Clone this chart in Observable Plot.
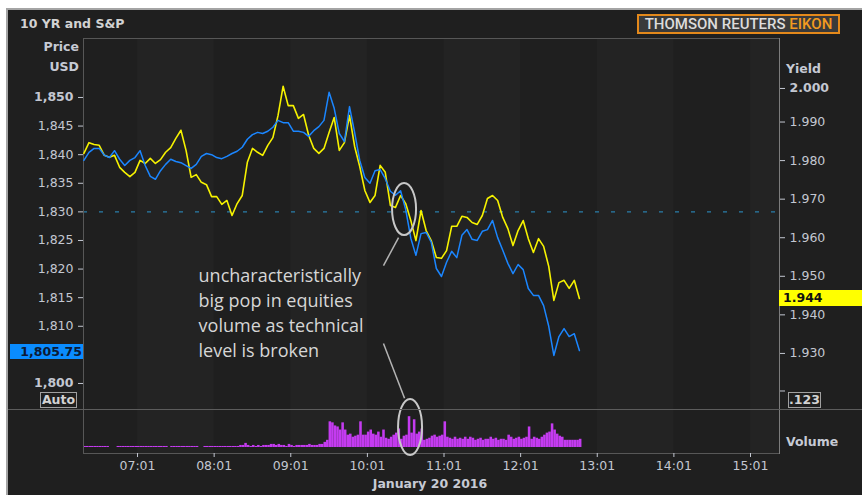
<!DOCTYPE html>
<html><head><meta charset="utf-8">
<script src="https://cdn.jsdelivr.net/npm/d3@7"></script>
<script src="https://cdn.jsdelivr.net/npm/@observablehq/plot@0.6"></script>
<style>
body{margin:0;background:#fff;}
#root{position:relative;width:862px;height:495px;overflow:hidden;font-family:"DejaVu Sans",sans-serif;}
.panel{position:absolute;left:6px;top:8px;width:856px;height:487px;background:#1f1f1f;border-top:2px solid #a4a4a4;border-left:2px solid #a4a4a4;box-sizing:border-box;}
.layer{position:absolute;left:0;top:0;}
.lbl{position:absolute;color:#c6cad4;font-size:12.5px;font-weight:bold;white-space:nowrap;line-height:1;}
.box{position:absolute;box-sizing:border-box;font-size:12.5px;font-weight:bold;line-height:1;white-space:nowrap;}
</style></head>
<body><div id="root"><div class="panel"></div></div>
<script>
// ---- data ----
const timeStart = 379;   // 06:19, minutes after midnight
const lineStep = 4;      // minutes between line samples
const volStep = 2;       // minutes between volume samples
const sp500 = [1839.0,1840.4,1841.1,1841.1,1839.9,1839.5,1840.7,1839.2,1838.1,1839.0,
 1839.5,1840.7,1838.1,1836.2,1835.7,1837.2,1838.3,1839.2,1838.8,1838.6,
 1838.1,1837.6,1838.3,1839.7,1840.2,1840.0,1839.5,1839.3,1839.7,1840.2,
 1840.6,1841.3,1842.7,1843.5,1843.9,1843.7,1844.1,1844.8,1846.0,1845.6,
 1845.6,1844.1,1844.1,1843.9,1843.2,1844.2,1844.9,1846.0,1850.9,1848.1,
 1843.7,1842.3,1848.4,1843.9,1839.0,1836.0,1835.0,1837.2,1837.4,1835.8,
 1833.6,1832.9,1833.7,1830.4,1825.4,1822.4,1826.2,1826.4,1824.7,1820.1,
 1818.7,1821.2,1823.1,1822.0,1825.9,1826.9,1825.2,1825.0,1826.6,1826.9,
 1828.5,1825.5,1823.3,1821.0,1819.2,1820.8,1819.9,1816.6,1815.4,1815.4,
 1813.6,1810.0,1804.9,1808.2,1809.6,1808.2,1808.7,1805.75];
const yield10 = [1.9816,1.9844,1.9839,1.9837,1.9811,1.9806,1.9811,1.9780,1.9767,1.9756,
 1.9767,1.9798,1.9790,1.9803,1.9790,1.9800,1.9819,1.9831,1.9855,1.9876,
 1.9824,1.9754,1.9761,1.9741,1.9735,1.9704,1.9704,1.9684,1.9694,1.9655,
 1.9686,1.9707,1.9793,1.9829,1.9819,1.9811,1.9837,1.9857,1.9914,1.9990,
 1.9940,1.9940,1.9907,1.9917,1.9863,1.9829,1.9816,1.9829,1.9870,1.9909,
 1.9824,1.9844,1.9914,1.9834,1.9782,1.9720,1.9689,1.9707,1.9785,1.9767,
 1.9681,1.9676,1.9707,1.9686,1.9642,1.9590,1.9668,1.9616,1.9590,1.9546,
 1.9544,1.9564,1.9627,1.9627,1.9653,1.9650,1.9637,1.9632,1.9655,1.9699,
 1.9707,1.9694,1.9650,1.9621,1.9577,1.9616,1.9642,1.9595,1.9559,1.9595,
 1.9575,1.9523,1.9435,1.9481,1.9487,1.9466,1.9487,1.9440];
const volume = [1,1,1,1,1,1,1,1,1,1, 0,0,0,
 1,1,1,1,1,1,1,1,1,1,1,1,1,1,1,1,1,1,1,1, 0,
 1,1,1,1,1,1,1,1,1,1,1, 0,0,
 1,1,1,1,1,1,1,1,1,1,1,1,1,1,
 2,2,4,2,1,2,1,2,1,2, 2,2,3,3,2,3,2,2,1,3, 2,1,2,2,2,2,2,3,2,2, 2,3,3,5,7,
 25,24,21,20,17,24,17,12,13,10,
 11,12,25,12,12,15,17,13,12,15,
 10,17,9,8,10,12,14,18,8,11,
 12,30,14,27,13,15,18,7,8,9,
 11,12,10,11,12,25,10,9,8,10,
 8,9,8,10,8,10,9,7,8,9,
 7,8,8,10,8,9,7,8,8,7,
 12,10,8,9,10,8,9,10,20,8,
 10,9,8,10,12,14,15,23,17,13,
 11,10,7,7,7,7,7,7,8];
const hourTicks = [421,481,541,601,661,721,781,841,901]; // 07:01 ... 15:01
const xDomain = [378.7, 923.7];
const priceDomain = [1795.45, 1860.31];
const yieldDomain = [1.9152, 2.0114];
const volDomain = [0, 37];
const priceTicks = [1810,1815,1820,1825,1830,1835,1840,1845];
const priceTicksBold = [1800,1850];
const priceTickHidden = [1805];   // label sits under the last-price box
const yieldTicks = [1.93,1.94,1.95,1.96,1.97,1.98,1.99];
const yieldTicksBold = [2.0];
const yieldTickBlank = [1.92];
const technicalLevel = 1830;
const lastPrice = 1805.75, lastYield = 1.944;
const noteText = "uncharacteristically\nbig pop in equities\nvolume as technical\nlevel is broken";
const note = {t: 468.8, p: 1820.9};
const leaders = [{t1: 625.4, p1: 1825.5, t2: 613.6, p2: 1820.6}, {t1: 613.6, p1: 1807.0, t2: 630.1, p2: 1797.4}];
const priceRing = {t: 630.1, p: 1830.4};
const volumeRing = {t: 634.8, v: 19.5};

// ---- derived tables ----
const lineData = sp500.map((p, i) => ({t: timeStart + i*lineStep, p, y: yield10[i]}));
const volData = volume.map((v, i) => ({t: timeStart + i*volStep, v}));
const bands = [];
for (let i = 0; i < hourTicks.length; i += 2) bands.push({a: hourTicks[i], b: i+1 < hourTicks.length ? hourTicks[i+1] : xDomain[1]});
const fmtTime = m => String(Math.floor(m/60)).padStart(2,"0") + ":" + String(m%60).padStart(2,"0");
const fmtPrice = d3.format(",");
const fmtYield = d3.format(".3f");

const W = 862, H = 495;
const baseStyle = {background:"transparent", color:"#c3c7d1", fontFamily:"DejaVu Sans", fontSize:"12.5px", overflow:"visible"};
const upper = {width:W, height:H, marginLeft:83, marginRight:83, marginTop:38, marginBottom:86, style:baseStyle,
  x:{domain:xDomain, axis:null}};
const bandFill = "#232323";

const A = Plot.plot({...upper, y:{domain:priceDomain, axis:null}, marks:[
  Plot.rect(bands, {x1:"a", x2:"b", fill:bandFill}),
  Plot.ruleY([technicalLevel], {stroke:"#2a7fab", strokeDasharray:"4,12", strokeWidth:1.3}),
  Plot.frame({stroke:"#575757"}),
  Plot.axisY(priceTicks, {anchor:"left", label:null, tickSize:5, tickPadding:5, tickFormat:fmtPrice, fontSize:12.5}),
  Plot.axisY(priceTickHidden, {anchor:"left", label:null, tickSize:5, tickFormat:() => ""}),
  Plot.axisY(priceTicksBold, {anchor:"left", label:null, tickSize:5, tickPadding:5, tickFormat:fmtPrice, fontWeight:"bold", fontSize:12.5})
]});

const C = Plot.plot({width:W, height:H, marginLeft:83, marginRight:83, marginTop:409, marginBottom:42, style:baseStyle,
  x:{domain:xDomain, axis:null}, y:{domain:volDomain, axis:null, insetBottom:6}, marks:[
  Plot.rect(bands, {x1:"a", x2:"b", fill:bandFill}),
  Plot.rectY(volData, {x1:"t", x2:d => d.t + volStep, y:"v", fill:"#c43bf0"}),
  Plot.frame({stroke:"#575757"}),
  Plot.frame({anchor:"right", stroke:"#7c7c7c"}),
  Plot.axisX(hourTicks, {anchor:"bottom", label:null, tickSize:4, tickPadding:4, tickFormat:fmtTime, fontSize:12.5})
]});

const B = Plot.plot({...upper, y:{domain:yieldDomain, axis:null}, marks:[
  Plot.frame({anchor:"right", stroke:"#7c7c7c"}),
  Plot.line(lineData, {x:"t", y:"y", stroke:"#f6f200", strokeWidth:1.6}),
  Plot.axisY(yieldTicks, {anchor:"right", label:null, tickSize:5, tickPadding:5, tickFormat:fmtYield, dy:1, fontSize:12.5}),
  Plot.axisY(yieldTicksBold, {anchor:"right", label:null, tickSize:5, tickPadding:5, tickFormat:fmtYield, dy:6, fontWeight:"bold", fontSize:12.5}),
  Plot.axisY(yieldTickBlank, {anchor:"right", label:null, tickSize:5, tickFormat:() => ""})
]});

const D = Plot.plot({...upper, y:{domain:priceDomain, axis:null}, marks:[
  Plot.line(lineData, {x:"t", y:"p", stroke:"#1b86ff", strokeWidth:1.5}),
  Plot.link(leaders, {x1:"t1", y1:"p1", x2:"t2", y2:"p2", stroke:"#b4b4b4", strokeWidth:1.5}),
  Plot.text([note], {x:"t", y:"p", text:() => noteText, textAnchor:"start", lineAnchor:"top", lineHeight:1.4,
    fontSize:18, fontFamily:"Open Sans", fill:"#d6d6d6"})
]});

const root = document.getElementById("root");
for (const s of [A, C, B, D]) { s.classList.add("layer"); root.appendChild(s); }

const sxD = D.scale("x"), syD = D.scale("y"), sxC = C.scale("x"), syC = C.scale("y"), syB = B.scale("y");
d3.select(D).append("ellipse").attr("cx", sxD.apply(priceRing.t)).attr("cy", syD.apply(priceRing.p))
  .attr("rx", 12).attr("ry", 26).attr("fill", "none").attr("stroke", "#c8c8c8").attr("stroke-width", 2);
d3.select(D).append("ellipse").attr("cx", sxC.apply(volumeRing.t)).attr("cy", syC.apply(volumeRing.v))
  .attr("rx", 12).attr("ry", 28).attr("fill", "none").attr("stroke", "#c8c8c8").attr("stroke-width", 2);

function add(html, cls, css) { const d = document.createElement("div"); d.className = cls; d.innerHTML = html; Object.assign(d.style, css); root.appendChild(d); return d; }
add("", "box", {left:"8px", top:"409px", width:"854px", height:"1px", background:"#5c5c5c"});
add("10 YR and S&amp;P", "lbl", {left:"20px", top:"18px", color:"#d2d2d2"});
add("Price", "lbl", {left:"0px", width:"79px", textAlign:"right", top:"41px"});
add("USD", "lbl", {left:"0px", width:"79px", textAlign:"right", top:"61px"});
add("Yield", "lbl", {left:"786px", top:"63px"});
add("Volume", "lbl", {left:"786px", top:"436px"});
add("January 20 2016", "lbl", {left:"330px", width:"200px", textAlign:"center", top:"478px"});
add("THOMSON REUTERS <span style='color:#f39a1f'>EIKON</span>", "box",
  {left:"637px", top:"14px", width:"203px", height:"20px", border:"2px solid #e4891b", background:"#3a3a3a",
   color:"#dcdcdc", fontFamily:"Roboto", fontWeight:"500", fontSize:"15px", textAlign:"center", lineHeight:"16px"});
add("Auto", "box", {left:"40px", top:"392px", width:"37px", height:"16px", border:"1px solid #a0a0a0", color:"#d2d2d2", textAlign:"center", lineHeight:"14px"});
add(".123", "box", {left:"788px", top:"392px", width:"33px", height:"16px", border:"1px solid #a0a0a0", color:"#d2d2d2", textAlign:"center", lineHeight:"14px"});
const yp = syD.apply(lastPrice);
add(fmtPrice(lastPrice), "box", {left:"10px", top:(yp - 6) + "px", width:"73px", height:"15px", background:"#0a8cff", color:"#0c1a36", textAlign:"right", lineHeight:"15px", paddingRight:"1px"});
const yy = syB.apply(lastYield);
add(fmtYield(lastYield), "box", {left:"779px", top:(yy - 8) + "px", width:"83px", height:"16px", background:"#ffff00", color:"#111", lineHeight:"16px", paddingLeft:"4px"});
</script></body></html>
